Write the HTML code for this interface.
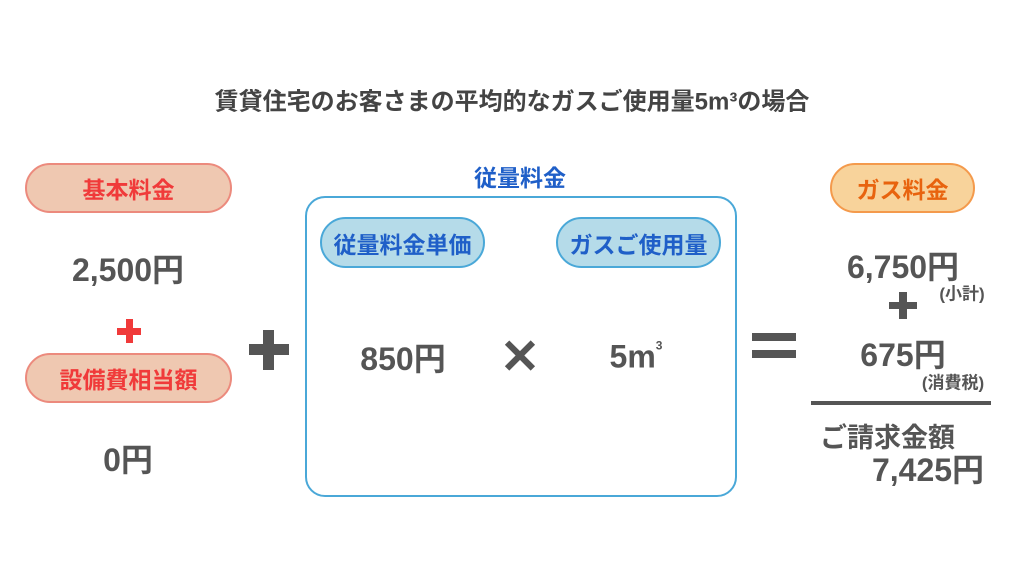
<!DOCTYPE html>
<html><head><meta charset="utf-8"><style>
body{margin:0;width:1024px;height:576px;background:#fff;position:relative;overflow:hidden;font-family:"Liberation Sans","Noto Sans CJK JP",sans-serif;font-weight:bold;color:#555}
.a{position:absolute;white-space:nowrap}
.c{transform:translate(-50%,-50%)}
.pill{position:absolute;box-sizing:border-box;border-radius:26px;display:flex;align-items:center;justify-content:center;font-size:23px;border:2px solid}
.red{background:#efc8b1;border-color:#ec8a7d;color:#f03a3a}
.blue{background:#b5dbe9;border-color:#4aa8d8;color:#1f5fc8}
.org{background:#f8d39b;border-color:#f49a4c;color:#e8630e}
.n{font-size:32px}
.s{font-size:17px}
</style></head><body>
<div class="a c" style="left:512px;top:99px;font-size:24px;color:#444">賃貸住宅のお客さまの平均的なガスご使用量5m³の場合</div>

<div class="pill red" style="left:25px;top:163px;width:207px;height:50px">基本料金</div>
<div class="a c n" style="left:128px;top:268px">2,500円</div>
<div class="a" style="left:117px;top:328px;width:24px;height:7px;background:#f03a3a"></div>
<div class="a" style="left:126px;top:319px;width:7px;height:24px;background:#f03a3a"></div>
<div class="pill red" style="left:25px;top:353px;width:207px;height:50px">設備費相当額</div>
<div class="a c n" style="left:128px;top:458px">0円</div>

<div class="a" style="left:249px;top:344px;width:40px;height:11px;background:#555"></div>
<div class="a" style="left:263px;top:330px;width:11px;height:40px;background:#555"></div>

<div class="a c" style="left:520px;top:176px;font-size:23px;color:#1f5fc8">従量料金</div>
<div class="a" style="left:305px;top:196px;width:432px;height:301px;box-sizing:border-box;border:2px solid #4aa8d8;border-radius:20px"></div>
<div class="pill blue" style="left:320px;top:217px;width:165px;height:51px">従量料金単価</div>
<div class="pill blue" style="left:556px;top:217px;width:165px;height:51px">ガスご使用量</div>
<div class="a c n" style="left:403px;top:357px">850円</div>
<div class="a c" style="left:520px;top:357px;font-size:48px;color:#555">✕</div>
<div class="a c n" style="left:636px;top:357px">5m<span style="font-size:12px;vertical-align:top">3</span></div>

<div class="a" style="left:752px;top:333px;width:44px;height:8px;background:#555"></div>
<div class="a" style="left:752px;top:350px;width:44px;height:8px;background:#555"></div>

<div class="pill org" style="left:830px;top:163px;width:145px;height:50px">ガス料金</div>
<div class="a c n" style="left:903px;top:265px">6,750円</div>
<div class="a c s" style="left:962px;top:292px">(小計)</div>
<div class="a" style="left:889px;top:302px;width:28px;height:7px;background:#555"></div>
<div class="a" style="left:899px;top:292px;width:8px;height:27px;background:#555"></div>
<div class="a c n" style="left:903px;top:353px">675円</div>
<div class="a c s" style="left:953px;top:381px">(消費税)</div>
<div class="a" style="left:811px;top:401px;width:180px;height:4px;background:#555"></div>
<div class="a" style="left:820px;top:416px;font-size:27px">ご請求金額</div>
<div class="a c n" style="left:928px;top:468px">7,425円</div>
</body></html>
